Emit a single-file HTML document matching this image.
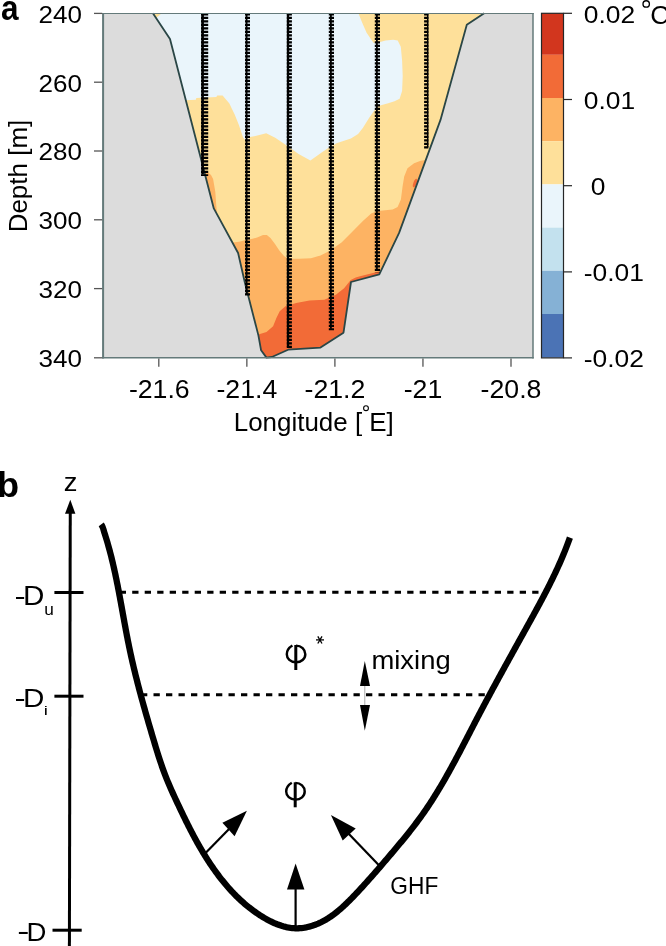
<!DOCTYPE html>
<html><head><meta charset="utf-8">
<style>
html,body{margin:0;padding:0;background:#fff;width:666px;height:946px;overflow:hidden}
svg{display:block;will-change:transform}
text{font-family:"Liberation Sans",sans-serif;fill:#000}
</style></head><body>
<svg width="666" height="946" viewBox="0 0 666 946">
<defs>
<clipPath id="valley">
<polygon points="152.9,13.3 170,39 213.8,208.4 238.1,253 244.9,282.7 258.4,335.4 261.1,350.3 266.5,357.6 271.9,357 288.1,349.7 320.5,347.6 343.5,332.7 351,282 379.3,274.3 399.1,232.9 440.5,119.9 466.8,24.8 484.2,13.3"/>
</clipPath>
<g id="phi1" fill="none" stroke="#000" stroke-width="2.45">
  <path d="M296,645.6 C301.3,645.6 305.3,649.4 305.3,654.2 C305.3,658.9 301.3,662.3 296,662.3 C290.4,662.3 286.8,658.6 286.8,654.2 C286.8,650.6 288.9,647.6 292.4,645.5"/>
  <line x1="295.8" y1="645" x2="295.8" y2="670" stroke-width="3"/>
</g>
</defs>

<!-- ===== Panel a ===== -->
<rect x="102" y="13.3" width="431" height="344.5" fill="#dcdcdc"/>
<g clip-path="url(#valley)">
  <rect x="100" y="0" width="440" height="400" fill="#eaf5fb"/>
  <polygon fill="#fee09a" points="100,100.2 185.8,100.2 195.8,99.7 196.3,98.1 216.3,97.1 217.3,95.5 222.6,95.5 226.2,99.7 229.4,103.4 231.5,108.1 234.7,114.4 238.9,124.9 243.1,137.6 246,141 250,137 255.4,136 266.2,133.2 275.2,137.7 286,145 298.6,154 310.4,160.6 322,152.2 330.2,146.8 336.5,143.2 350.9,138.6 358.1,134.1 362.8,127.9 369.2,117.7 373.6,111.4 378,106.3 381.8,105.1 388.2,103.2 394.5,101.3 399.6,98.7 402.1,91.1 402.7,75.9 402.1,60.7 400.8,46.8 397.7,40.4 393.2,39.8 385.6,40.4 379.3,42.3 373.6,43 366.6,32.8 362.2,22.7 358.4,13.3 358.4,0 600,0 600,400 100,400"/>
  <polygon fill="#fee09a" points="150,13 162,13 156,18"/>
  <polygon fill="#fdb363" points="100,242.5 233,242.5 239,241.8 245,240.3 252.5,238.8 257.8,237.3 263,235 266.8,235 270.5,238 275,244 279.5,250.8 284,256 287.8,258.7 299,258.7 311,258.3 318.6,256 320,255.7 329.9,250.7 341.5,242.5 353,230.9 362.9,221 371.2,213.6 377.8,211.1 392.7,209.5 397.6,207 400.9,199.5 402.6,186.3 404.2,176.4 407.5,168.2 414.1,163.2 420.7,160.7 425.7,159.9 427,159.9 600,159.9 600,400 100,400"/>
  <polygon fill="#fdb363" points="204,172 207.7,172 211,175 213.1,179 215.3,191.7 216.2,204.4 216.9,212.6 210,215 200,200"/>
  <polygon fill="#f26b37" points="100,334.4 258.3,334.4 266.5,331.9 273.1,326.2 276.4,317.9 279.7,311.3 285.5,306.3 296.2,303 309.5,300.6 324.3,299.7 335.9,294.8 344.1,288.2 350.7,279.9 355.7,277.4 360,276.3 379,271.5 385,276 600,400 100,400"/>
  <ellipse cx="415" cy="183" rx="1.6" ry="4.5" fill="#f26b37" transform="rotate(20 415 183)"/>
</g>
<polyline fill="none" stroke="#2a4646" stroke-width="1.8" stroke-linejoin="round" points="152.9,13.3 170,39 213.8,208.4 238.1,253 244.9,282.7 258.4,335.4 261.1,350.3 266.5,357.6 271.9,357 288.1,349.7 320.5,347.6 343.5,332.7 351,282 379.3,274.3 399.1,232.9 440.5,119.9 466.8,24.8 484.2,13.3"/>

<!-- CTD profiles -->
<g fill="none" stroke="#000">
  <line x1="204.60" y1="13.3" x2="204.60" y2="176.0" stroke-width="7.20" stroke-dasharray="2.1 1.4"/>
  <line x1="202.60" y1="13.3" x2="202.60" y2="174.5" stroke-width="2.60"/>
  <line x1="247.50" y1="13.3" x2="247.50" y2="296.0" stroke-width="5.00" stroke-dasharray="2.1 1.4"/>
  <line x1="246.60" y1="13.3" x2="246.60" y2="294.5" stroke-width="1.80"/>
  <line x1="289.35" y1="13.3" x2="289.35" y2="348.8" stroke-width="5.10" stroke-dasharray="2.1 1.4"/>
  <line x1="288.00" y1="13.3" x2="288.00" y2="347.3" stroke-width="2.30"/>
  <line x1="331.40" y1="13.3" x2="331.40" y2="330.3" stroke-width="5.20" stroke-dasharray="2.1 1.4"/>
  <line x1="330.90" y1="13.3" x2="330.90" y2="328.8" stroke-width="1.80"/>
  <line x1="377.40" y1="13.3" x2="377.40" y2="272.5" stroke-width="5.20" stroke-dasharray="2.1 1.4"/>
  <line x1="376.90" y1="13.3" x2="376.90" y2="271.0" stroke-width="1.80"/>
  <line x1="426.25" y1="13.3" x2="426.25" y2="148.7" stroke-width="4.30" stroke-dasharray="2.1 1.4"/>
  <line x1="427.70" y1="13.3" x2="427.70" y2="147.2" stroke-width="1.50"/>
</g>

<!-- axes box -->
<g stroke="#647a7a" fill="none">
  <line x1="102" y1="13.5" x2="533.7" y2="13.5" stroke-width="1.2"/>
  <line x1="533" y1="13" x2="533" y2="358.5" stroke-width="1.5"/>
  <line x1="102" y1="357.8" x2="533.7" y2="357.8" stroke-width="1.5"/>
  <line x1="103.1" y1="13" x2="103.1" y2="358.5" stroke-width="2"/>
</g>
<g stroke="#555" stroke-width="1.3">
  <line x1="94" y1="13.4" x2="102.2" y2="13.4"/>
  <line x1="94" y1="82.2" x2="102.2" y2="82.2"/>
  <line x1="94" y1="151" x2="102.2" y2="151"/>
  <line x1="94" y1="219.8" x2="102.2" y2="219.8"/>
  <line x1="94" y1="288.6" x2="102.2" y2="288.6"/>
  <line x1="94" y1="357.8" x2="102.2" y2="357.8"/>
  <line x1="158.8" y1="358.5" x2="158.8" y2="366.7"/>
  <line x1="246.85" y1="358.5" x2="246.85" y2="366.7"/>
  <line x1="334.9" y1="358.5" x2="334.9" y2="366.7"/>
  <line x1="422.95" y1="358.5" x2="422.95" y2="366.7"/>
  <line x1="511" y1="358.5" x2="511" y2="366.7"/>
</g>

<!-- colorbar -->
<rect x="541.5" y="13.3" width="22" height="41.5" fill="#d2361e"/>
<rect x="541.5" y="54.8" width="22" height="43.2" fill="#f26b37"/>
<rect x="541.5" y="98.0" width="22" height="43.2" fill="#fdb363"/>
<rect x="541.5" y="141.2" width="22" height="43.2" fill="#fee09a"/>
<rect x="541.5" y="184.4" width="22" height="43.2" fill="#eaf5fb"/>
<rect x="541.5" y="227.6" width="22" height="43.2" fill="#c3e1ee"/>
<rect x="541.5" y="270.8" width="22" height="43.2" fill="#85b1d5"/>
<rect x="541.5" y="314.0" width="22" height="43.6" fill="#4b73b5"/>
<rect x="541.5" y="13.3" width="22" height="344.6" fill="none" stroke="#262626" stroke-width="1.2"/>
<g stroke="#262626" stroke-width="1.2">
  <line x1="563.5" y1="13.3" x2="572" y2="13.3"/>
  <line x1="563.5" y1="99.5" x2="572" y2="99.5"/>
  <line x1="563.5" y1="185.7" x2="572" y2="185.7"/>
  <line x1="563.5" y1="271.9" x2="572" y2="271.9"/>
  <line x1="563.5" y1="357.9" x2="572" y2="357.9"/>
</g>

<!-- ===== Panel b ===== -->
<line x1="70.25" y1="510" x2="69.4" y2="946" stroke="#000" stroke-width="3"/>
<polygon points="70.3,499.7 65,513.8 75.4,513.8" fill="#000"/>
<g stroke="#000" stroke-width="3">
  <line x1="54.4" y1="592.5" x2="83.5" y2="592.5"/>
  <line x1="54.4" y1="696.2" x2="83.5" y2="696.2"/>
  <line x1="52.5" y1="930.2" x2="81.7" y2="930.2"/>
</g>
<g stroke="#000" stroke-width="3" stroke-dasharray="6.3 6.2">
  <line x1="119.7" y1="592.2" x2="542" y2="592.2"/>
  <line x1="141" y1="694.7" x2="486" y2="694.7"/>
</g>
<path fill="none" stroke="#000" stroke-width="6.3" stroke-linejoin="round" d="M101.2,524.3 C102.5,526 103.66,529.84 104.16,532.04 L104.66,533.56 L105.15,535.08 L105.63,536.60 L106.10,538.13 L106.57,539.66 L107.03,541.19 L107.48,542.72 L107.92,544.25 L108.36,545.79 L108.79,547.32 L109.21,548.86 L109.63,550.40 L110.04,551.94 L110.44,553.49 L110.84,555.03 L111.23,556.58 L111.62,558.13 L112.00,559.68 L112.37,561.23 L112.74,562.79 L113.10,564.34 L113.46,565.90 L113.82,567.45 L114.17,569.01 L114.51,570.57 L114.85,572.13 L115.19,573.70 L115.52,575.26 L115.85,576.82 L116.18,578.39 L116.50,579.95 L116.82,581.52 L117.13,583.09 L117.45,584.66 L117.76,586.23 L118.06,587.80 L118.37,589.37 L118.67,590.94 L118.97,592.51 L119.27,594.09 L119.56,595.66 L119.86,597.23 L120.15,598.81 L120.44,600.38 L120.73,601.96 L121.02,603.53 L121.30,605.11 L121.59,606.69 L121.88,608.26 L122.16,609.84 L122.45,611.42 L122.73,612.99 L123.02,614.57 L123.31,616.15 L123.59,617.72 L123.88,619.30 L124.17,620.88 L124.45,622.45 L124.74,624.03 L125.03,625.61 L125.33,627.18 L125.62,628.76 L125.91,630.33 L126.21,631.91 L126.51,633.48 L126.81,635.05 L127.11,636.63 L127.42,638.20 L127.73,639.77 L128.04,641.34 L128.35,642.91 L128.67,644.48 L128.99,646.05 L129.31,647.62 L129.64,649.19 L129.97,650.75 L130.31,652.32 L130.64,653.88 L130.99,655.45 L131.33,657.01 L131.68,658.57 L132.03,660.13 L132.39,661.69 L132.75,663.25 L133.11,664.81 L133.48,666.37 L133.85,667.93 L134.22,669.48 L134.60,671.04 L134.97,672.59 L135.36,674.15 L135.74,675.70 L136.13,677.25 L136.52,678.80 L136.91,680.36 L137.31,681.91 L137.70,683.46 L138.11,685.01 L138.51,686.55 L138.91,688.10 L139.32,689.65 L139.73,691.20 L140.14,692.74 L140.56,694.29 L140.98,695.83 L141.40,697.38 L141.82,698.92 L142.24,700.46 L142.67,702.00 L143.09,703.55 L143.52,705.09 L143.95,706.63 L144.39,708.17 L144.82,709.71 L145.25,711.25 L145.69,712.79 L146.13,714.33 L146.57,715.87 L147.01,717.40 L147.46,718.94 L147.90,720.48 L148.35,722.02 L148.79,723.55 L149.24,725.09 L149.69,726.62 L150.14,728.16 L150.59,729.69 L151.04,731.23 L151.49,732.76 L151.95,734.30 L152.40,735.83 L152.85,737.36 L153.31,738.90 L153.77,740.43 L154.22,741.96 L154.68,743.50 L155.14,745.03 L155.60,746.56 L156.07,748.09 L156.53,749.62 L157.00,751.15 L157.48,752.67 L157.95,754.20 L158.44,755.72 L158.92,757.25 L159.42,758.77 L159.91,760.29 L160.42,761.81 L160.93,763.32 L161.45,764.84 L161.97,766.35 L162.50,767.86 L163.04,769.37 L163.59,770.87 L164.15,772.37 L164.71,773.87 L165.29,775.37 L165.87,776.86 L166.46,778.35 L167.07,779.84 L167.68,781.33 L168.30,782.81 L168.92,784.29 L169.56,785.77 L170.20,787.24 L170.84,788.72 L171.49,790.19 L172.15,791.65 L172.81,793.12 L173.48,794.58 L174.15,796.04 L174.82,797.50 L175.50,798.96 L176.17,800.41 L176.85,801.86 L177.54,803.31 L178.22,804.76 L178.90,806.21 L179.59,807.65 L180.28,809.09 L180.96,810.53 L181.65,811.97 L182.34,813.41 L183.03,814.84 L183.73,816.27 L184.42,817.70 L185.12,819.13 L185.82,820.56 L186.53,821.98 L187.24,823.40 L187.95,824.82 L188.66,826.24 L189.38,827.65 L190.10,829.07 L190.83,830.48 L191.56,831.89 L192.30,833.30 L193.04,834.70 L193.79,836.11 L194.54,837.51 L195.30,838.91 L196.06,840.30 L196.83,841.70 L197.61,843.09 L198.39,844.48 L199.18,845.87 L199.97,847.26 L200.78,848.64 L201.59,850.02 L202.41,851.40 L203.23,852.78 L204.07,854.15 L204.91,855.52 L205.76,856.89 L206.61,858.25 L207.48,859.61 L208.35,860.96 L209.23,862.31 L210.12,863.65 L211.02,864.99 L211.92,866.33 L212.84,867.66 L213.76,868.98 L214.69,870.30 L215.63,871.61 L216.58,872.91 L217.54,874.21 L218.51,875.50 L219.48,876.78 L220.47,878.06 L221.46,879.33 L222.47,880.59 L223.48,881.84 L224.50,883.09 L225.53,884.32 L226.58,885.55 L227.63,886.76 L228.69,887.97 L229.76,889.17 L230.84,890.36 L231.94,891.54 L233.04,892.70 L234.15,893.86 L235.27,895.01 L236.41,896.14 L237.55,897.27 L238.71,898.38 L239.87,899.48 L241.05,900.57 L242.23,901.64 L243.43,902.71 L244.64,903.76 L245.86,904.80 L247.09,905.82 L248.34,906.83 L249.59,907.83 L250.86,908.81 L252.14,909.78 L253.42,910.74 L254.73,911.68 L256.04,912.60 L257.36,913.51 L258.70,914.41 L260.05,915.29 L261.41,916.15 L262.79,917.00 L264.17,917.83 L265.57,918.64 L266.98,919.43 L268.40,920.19 L269.83,920.94 L271.27,921.66 L272.72,922.35 L274.18,923.01 L275.65,923.64 L277.12,924.24 L278.60,924.80 L280.10,925.33 L281.59,925.82 L283.10,926.27 L284.61,926.68 L286.12,927.05 L287.65,927.37 L289.17,927.65 L290.70,927.88 L292.24,928.06 L293.77,928.19 L295.32,928.26 L296.86,928.29 L298.40,928.26 L299.95,928.17 L301.49,928.04 L303.04,927.86 L304.58,927.63 L306.12,927.35 L307.65,927.02 L309.17,926.66 L310.69,926.24 L312.20,925.79 L313.70,925.29 L315.20,924.76 L316.68,924.18 L318.14,923.57 L319.60,922.92 L321.04,922.24 L322.46,921.52 L323.87,920.77 L325.27,919.99 L326.65,919.18 L328.01,918.33 L329.36,917.46 L330.69,916.57 L332.01,915.65 L333.32,914.70 L334.62,913.73 L335.90,912.74 L337.17,911.72 L338.42,910.69 L339.67,909.64 L340.91,908.57 L342.13,907.49 L343.34,906.39 L344.54,905.27 L345.74,904.15 L346.92,903.01 L348.09,901.86 L349.26,900.71 L350.41,899.54 L351.56,898.37 L352.70,897.20 L353.83,896.02 L354.96,894.84 L356.08,893.65 L357.19,892.47 L358.30,891.29 L359.40,890.10 L360.49,888.92 L361.58,887.74 L362.66,886.55 L363.74,885.37 L364.82,884.19 L365.89,883.00 L366.95,881.82 L368.01,880.63 L369.07,879.45 L370.12,878.26 L371.17,877.08 L372.22,875.89 L373.26,874.70 L374.30,873.52 L375.34,872.33 L376.38,871.14 L377.41,869.95 L378.44,868.75 L379.48,867.56 L380.50,866.37 L381.53,865.17 L382.56,863.97 L383.59,862.78 L384.61,861.58 L385.64,860.38 L386.66,859.17 L387.69,857.97 L388.72,856.76 L389.74,855.55 L390.77,854.34 L391.80,853.13 L392.83,851.92 L393.86,850.70 L394.88,849.48 L395.91,848.26 L396.94,847.04 L397.97,845.81 L398.99,844.58 L400.02,843.35 L401.04,842.12 L402.06,840.88 L403.08,839.65 L404.10,838.40 L405.11,837.16 L406.12,835.91 L407.13,834.66 L408.14,833.41 L409.14,832.16 L410.14,830.90 L411.13,829.63 L412.12,828.37 L413.11,827.10 L414.09,825.83 L415.06,824.55 L416.03,823.27 L417.00,821.99 L417.96,820.70 L418.91,819.41 L419.86,818.12 L420.80,816.82 L421.74,815.52 L422.67,814.21 L423.59,812.90 L424.51,811.59 L425.42,810.27 L426.32,808.95 L427.22,807.62 L428.11,806.29 L428.99,804.96 L429.87,803.63 L430.75,802.29 L431.62,800.95 L432.48,799.60 L433.34,798.25 L434.19,796.90 L435.04,795.55 L435.88,794.19 L436.72,792.83 L437.55,791.46 L438.38,790.10 L439.21,788.73 L440.03,787.36 L440.84,785.98 L441.66,784.61 L442.46,783.23 L443.27,781.85 L444.07,780.46 L444.86,779.08 L445.65,777.69 L446.44,776.30 L447.23,774.91 L448.01,773.51 L448.79,772.12 L449.57,770.72 L450.34,769.32 L451.11,767.92 L451.88,766.52 L452.64,765.11 L453.40,763.71 L454.16,762.30 L454.92,760.89 L455.68,759.48 L456.43,758.07 L457.18,756.65 L457.93,755.24 L458.68,753.82 L459.43,752.41 L460.17,750.99 L460.91,749.57 L461.66,748.15 L462.40,746.74 L463.14,745.32 L463.87,743.89 L464.61,742.47 L465.35,741.05 L466.09,739.63 L466.82,738.21 L467.56,736.78 L468.29,735.36 L469.03,733.94 L469.76,732.51 L470.50,731.09 L471.23,729.67 L471.97,728.24 L472.70,726.82 L473.44,725.40 L474.18,723.98 L474.91,722.55 L475.65,721.13 L476.39,719.71 L477.13,718.29 L477.87,716.87 L478.61,715.45 L479.36,714.03 L480.10,712.61 L480.85,711.20 L481.60,709.78 L482.34,708.36 L483.09,706.95 L483.84,705.53 L484.59,704.12 L485.35,702.71 L486.10,701.29 L486.86,699.88 L487.61,698.47 L488.37,697.06 L489.12,695.65 L489.88,694.24 L490.64,692.83 L491.40,691.42 L492.16,690.01 L492.92,688.60 L493.69,687.19 L494.45,685.78 L495.21,684.38 L495.98,682.97 L496.74,681.56 L497.51,680.16 L498.28,678.75 L499.04,677.35 L499.81,675.94 L500.58,674.54 L501.35,673.13 L502.12,671.73 L502.89,670.32 L503.66,668.92 L504.43,667.52 L505.20,666.11 L505.98,664.71 L506.75,663.31 L507.52,661.91 L508.30,660.50 L509.07,659.10 L509.84,657.70 L510.62,656.30 L511.39,654.90 L512.17,653.50 L512.94,652.09 L513.72,650.69 L514.49,649.29 L515.27,647.89 L516.04,646.49 L516.82,645.09 L517.60,643.69 L518.37,642.29 L519.15,640.89 L519.93,639.49 L520.70,638.09 L521.48,636.69 L522.26,635.28 L523.03,633.88 L523.81,632.48 L524.58,631.08 L525.36,629.68 L526.14,628.28 L526.91,626.88 L527.69,625.48 L528.46,624.08 L529.24,622.68 L530.01,621.27 L530.79,619.87 L531.56,618.47 L532.33,617.07 L533.11,615.66 L533.88,614.26 L534.65,612.85 L535.41,611.45 L536.18,610.04 L536.95,608.64 L537.71,607.23 L538.47,605.82 L539.23,604.41 L539.99,603.00 L540.74,601.59 L541.50,600.18 L542.25,598.76 L542.99,597.35 L543.74,595.93 L544.48,594.52 L545.22,593.10 L545.96,591.68 L546.69,590.26 L547.42,588.83 L548.15,587.41 L548.87,585.98 L549.59,584.55 L550.30,583.12 L551.01,581.69 L551.72,580.26 L552.42,578.82 L553.12,577.38 L553.82,575.94 L554.51,574.50 L555.19,573.06 L555.87,571.61 L556.55,570.16 L557.22,568.71 L557.88,567.26 L558.54,565.80 L559.20,564.35 L559.85,562.89 L560.49,561.42 L561.13,559.96 L561.76,558.49 L562.39,557.02 L563.01,555.54 L563.62,554.06 L564.22,552.58 L564.82,551.10 L565.42,549.61 L566.00,548.12 L566.58,546.63 L567.16,545.13 L567.72,543.64 L568.28,542.13 L568.83,540.63 L569.38,539.12 L569.91,537.60"/>

<use href="#phi1"/>
<use href="#phi1" transform="translate(-0.6,137.3)"/>
<g stroke="#000" stroke-width="1.3">
  <line x1="316" y1="639.9" x2="324" y2="639.9"/>
  <line x1="317.8" y1="636.3" x2="322" y2="643.5"/>
  <line x1="322" y1="636.3" x2="317.8" y2="643.5"/>
</g>
<line x1="364.8" y1="684" x2="364.8" y2="707" stroke="#aaa" stroke-width="1"/>
<polygon points="364.8,660.9 360,685.9 370,685.9" fill="#000"/>
<polygon points="364.8,730.8 360,705.1 370,705.1" fill="#000"/>
<g stroke="#000" stroke-width="2.2">
  <line x1="205.3" y1="853.3" x2="231" y2="827"/>
  <line x1="295.6" y1="927" x2="295.6" y2="888"/>
  <line x1="379.9" y1="866.2" x2="347" y2="832"/>
</g>
<polygon points="246.9,810.7 222.4,822.7 234.6,836.2" fill="#000"/>
<polygon points="295.6,863.5 287,889.5 304.4,889.5" fill="#000"/>
<polygon points="330.9,815.1 342.7,840.4 355.7,828.4" fill="#000"/>

<circle cx="366" cy="408.2" r="2.4" fill="none" stroke="#000" stroke-width="1.1"/>
<circle cx="646.2" cy="3.95" r="3.2" fill="none" stroke="#000" stroke-width="1.35"/>
<text id="ta" x="0" y="0" font-size="34" font-weight="bold" transform="translate(1.07,19.80) scale(0.9278,1.0250)">a</text>
<text id="y240" x="0" y="0" font-size="25" transform="translate(38.46,22.70) scale(1.0425,0.9833)">240</text>
<text id="y260" x="0" y="0" font-size="25" transform="translate(38.46,91.50) scale(1.0425,0.9833)">260</text>
<text id="y280" x="0" y="0" font-size="25" transform="translate(38.46,160.30) scale(1.0425,0.9833)">280</text>
<text id="y300" x="0" y="0" font-size="25" transform="translate(38.46,229.10) scale(1.0425,0.9833)">300</text>
<text id="y320" x="0" y="0" font-size="25" transform="translate(38.46,297.90) scale(1.0425,0.9833)">320</text>
<text id="y340" x="0" y="0" font-size="25" transform="translate(38.46,366.70) scale(1.0425,0.9833)">340</text>
<text id="x-21.6" x="0" y="0" font-size="25" text-anchor="middle" transform="translate(159.30,398.30) scale(1.0667,1.0056)">-21.6</text>
<text id="x-21.4" x="0" y="0" font-size="25" text-anchor="middle" transform="translate(246.85,398.30) scale(1.0667,1.0056)">-21.4</text>
<text id="x-21.2" x="0" y="0" font-size="25" text-anchor="middle" transform="translate(334.90,398.30) scale(1.0667,1.0056)">-21.2</text>
<text id="x-21" x="0" y="0" font-size="25" text-anchor="middle" transform="translate(422.95,398.30) scale(1.0667,1.0056)">-21</text>
<text id="x-20.8" x="0" y="0" font-size="25" text-anchor="middle" transform="translate(511.00,398.30) scale(1.0667,1.0056)">-20.8</text>
<text id="lon" x="0" y="0" font-size="26.4" xml:space="preserve" transform="translate(233.73,430.82) scale(0.9830,0.9958)">Longitude [ E]</text>
<text id="dep" x="0" y="0" font-size="26.4"  transform="translate(26.58,232.37) scale(0.9833,0.9855) rotate(-90)">Depth [m]</text>
<text id="c002" x="0" y="0" font-size="25" transform="translate(583.74,23.00) scale(1.0565,0.9833)">0.02</text>
<text id="c001" x="0" y="0" font-size="25" transform="translate(583.74,108.90) scale(1.0565,0.9833)">0.01</text>
<text id="c000" x="0" y="0" font-size="25" transform="translate(590.74,194.80) scale(1.0565,0.9833)">0</text>
<text id="cm001" x="0" y="0" font-size="25" transform="translate(583.74,280.70) scale(1.0565,0.9833)">-0.01</text>
<text id="cm002" x="0" y="0" font-size="25" transform="translate(583.74,366.60) scale(1.0565,0.9833)">-0.02</text>
<text id="cC" x="0" y="0" font-size="26.4" transform="translate(650.30,23.60) scale(1.0000,1.0000)">C</text>
<text id="tb" x="0" y="0" font-size="34" font-weight="bold" transform="translate(-2.93,497.10) scale(1.0647,1.0333)">b</text>
<text id="tz" x="0" y="0" font-size="26" transform="translate(63.65,491.00) scale(1.0545,0.9929)">z</text>
<text id="du1" x="0" y="0" font-size="26" transform="translate(14.52,605.20) scale(1.2833,1.0000)">-</text>
<text id="du2" x="0" y="0" font-size="26" transform="translate(23.12,604.90) scale(1.1400,1.0333)">D</text>
<text id="du3" x="0" y="0" font-size="17" transform="translate(44.19,614.70) scale(1.0143,0.9556)">u</text>
<text id="di1" x="0" y="0" font-size="26" transform="translate(14.52,707.00) scale(1.2833,1.0000)">-</text>
<text id="di2" x="0" y="0" font-size="26" transform="translate(23.12,706.60) scale(1.1400,1.0056)">D</text>
<text id="di3" x="0" y="0" font-size="17" transform="translate(43.70,715.00) scale(1.1000,0.7917)">i</text>
<text id="dd1" x="0" y="0" font-size="26" transform="translate(17.20,940.20) scale(1.4000,1.0000)">-</text>
<text id="dd2" x="0" y="0" font-size="26" transform="translate(26.38,940.70) scale(1.0600,1.0056)">D</text>
<text id="mix" x="0" y="0" font-size="28" transform="translate(371.44,669.48) scale(0.9792,0.9192)">mixing</text>
<text id="ghf" x="0" y="0" font-size="24" transform="translate(390.35,893.60) scale(0.9469,1.0294)">GHF</text>
</svg>
</body></html>
